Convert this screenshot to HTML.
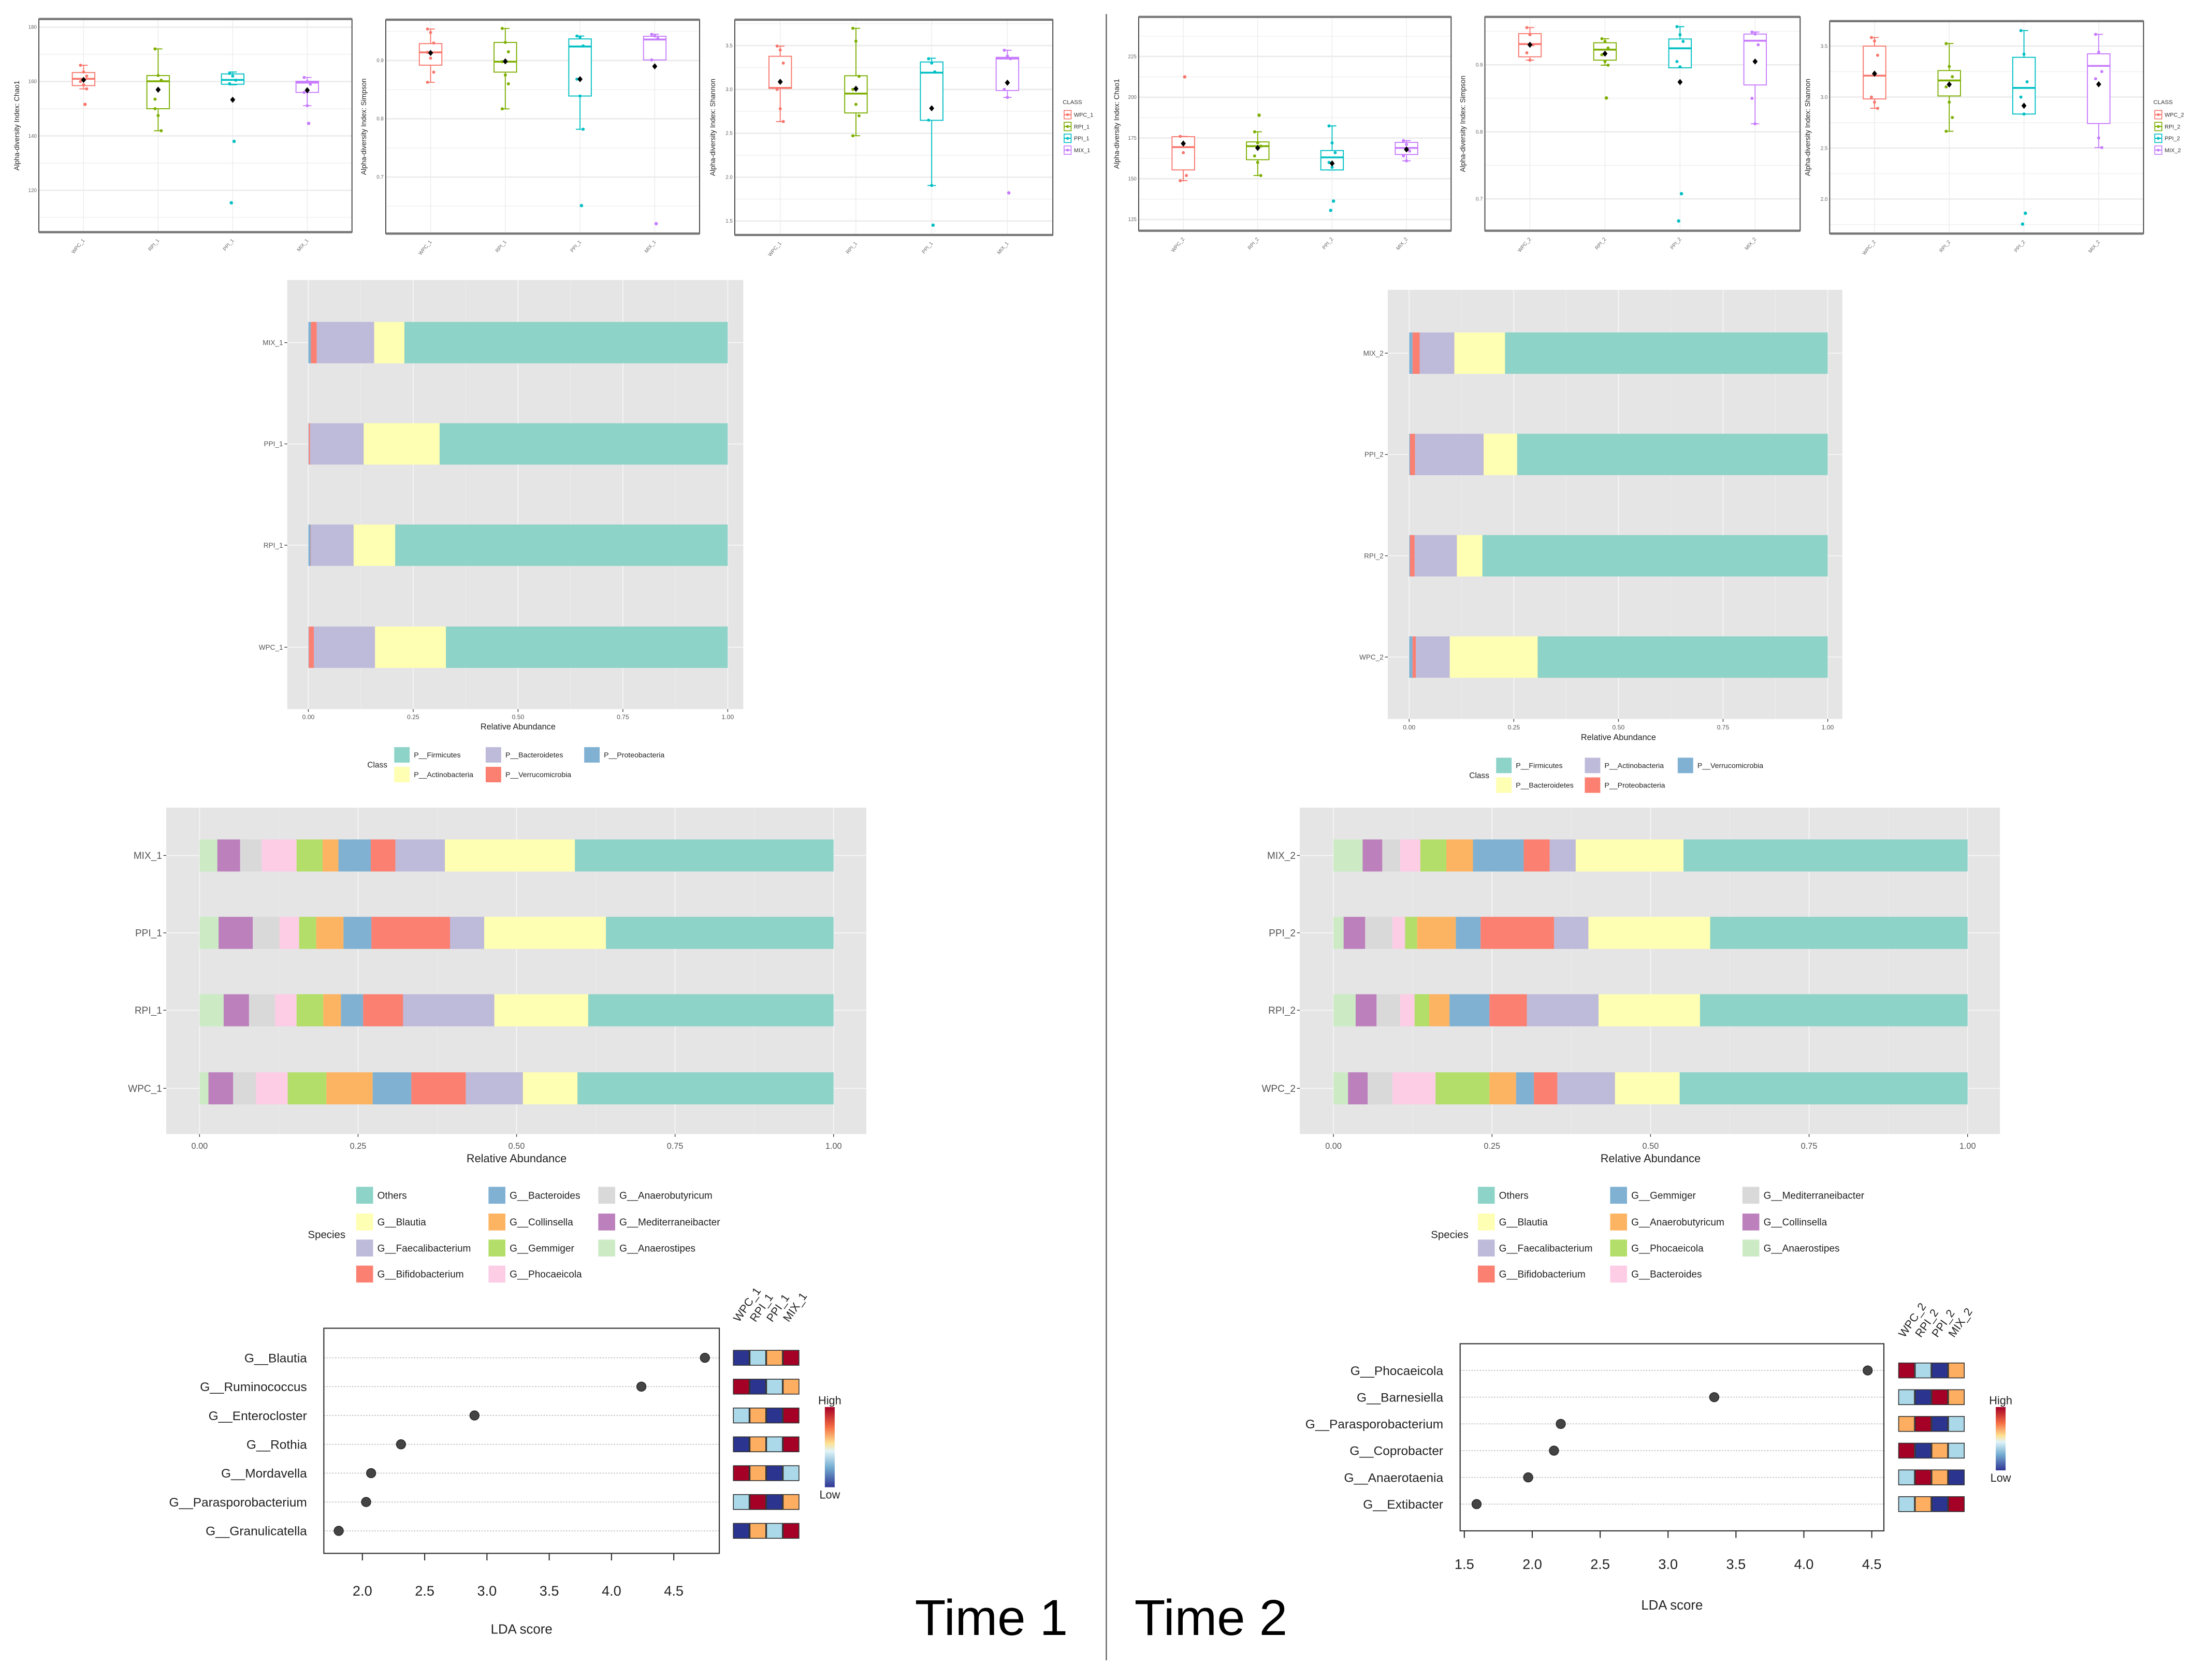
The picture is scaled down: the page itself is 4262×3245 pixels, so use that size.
<!DOCTYPE html>
<html><head><meta charset="utf-8">
<style>
html,body{margin:0;padding:0;background:#fff;}
svg{display:block;font-family:"Liberation Sans",sans-serif;}
</style></head>
<body>
<svg id="fig" width="4262" height="3245" viewBox="0 0 1568 1194" xmlns="http://www.w3.org/2000/svg">
<rect x="0" y="0" width="1568" height="1194" fill="#fff"/>
<line x1="786" y1="10" x2="786" y2="1180" stroke="#555" stroke-width="0.8"/>
<text x="650" y="1162" font-size="36" fill="#000">Time 1</text>
<text x="806" y="1162" font-size="36" fill="#000">Time 2</text>
</svg>
<script>
// ===== Boxplot data =====
const groupsT1 = ['WPC_1','RPI_1','PPI_1','MIX_1'];
const groupsT2 = ['WPC_2','RPI_2','PPI_2','MIX_2'];
const classColors = ['#F8766D','#7CAE00','#00BFC4','#C77CFF'];

const chao1T1Stats = [[157.3,158.5,161,163.3,166],[141.9,150,160.1,162.2,172],[158.8,159,160.6,162.8,163.5],[151.1,156,159.6,160.1,161.5]];
const chao1T1Means = [160.6,157,153.3,156.8];
const chao1T1Outliers = [[151.6],[],[138,115.4],[144.6]];
const chao1T1Points = [[166,163.5,162,160,158.8,157.3],[172,162.2,160.5,153.5,147.5,141.9,150],[163,162,160.5,159.2],[161.5,160,159,156,151.1]];
const chao1T1Ticks = [120,140,160,180];

const simpsonT1Stats = [[0.8626,0.892,0.914,0.929,0.954],[0.817,0.880,0.898,0.931,0.955],[0.782,0.839,0.924,0.937,0.942],[0.901,0.901,0.936,0.9416,0.945]];
const simpsonT1Means = [0.913,0.8985,0.868,0.890];
const simpsonT1Outliers = [[],[],[0.651],[0.620]];
const simpsonT1Points = [[0.954,0.948,0.93,0.914,0.904,0.88,0.8626],[0.955,0.931,0.915,0.898,0.875,0.86,0.817],[0.942,0.94,0.925,0.868,0.839,0.782],[0.945,0.942,0.938,0.901]];
const simpsonT1Ticks = [0.7,0.8,0.9];

const shannonT1Stats = [[2.634,3.012,3.018,3.378,3.494],[2.472,2.732,2.953,3.156,3.697],[1.905,2.648,3.191,3.313,3.356],[2.909,2.988,3.352,3.366,3.447]];
const shannonT1Means = [3.087,3.008,2.785,3.077];
const shannonT1Outliers = [[],[],[1.453],[1.821]];
const shannonT1Points = [[3.494,3.45,3.3,3.0,2.78,2.634],[3.697,3.55,3.15,3.0,2.83,2.7,2.472],[3.35,3.3,3.2,2.65,1.905],[3.447,3.38,3.35,3.0,2.909]];
const shannonT1Ticks = [1.5,2.0,2.5,3.0,3.5];

const chao1T2Stats = [[148.8,155.4,169.4,175.8,176],[152,161.7,170,172.6,178.8],[155.4,155.4,163.1,167.3,182.4],[161,164.9,168.9,172.3,173.4]];
const chao1T2Means = [171.6,168.9,159.4,168];
const chao1T2Outliers = [[212.5],[189],[136.3,130.6],[]];
const chao1T2Points = [[176,166,152,148.8],[178.8,172,170,164,160,152],[182.4,172,166,160,157],[173.4,171,167,164,161]];
const chao1T2Ticks = [125,150,175,200,225];

const simpsonT2Stats = [[0.907,0.912,0.931,0.9466,0.9556],[0.8995,0.907,0.9227,0.933,0.939],[0.8956,0.8956,0.9247,0.9386,0.957],[0.812,0.870,0.936,0.946,0.949]];
const simpsonT2Means = [0.930,0.9167,0.8743,0.905];
const simpsonT2Outliers = [[],[0.8506],[0.7077,0.667],[]];
const simpsonT2Points = [[0.9556,0.945,0.93,0.918,0.907],[0.939,0.935,0.925,0.915,0.905,0.8995],[0.957,0.945,0.935,0.905,0.897],[0.949,0.946,0.93,0.85,0.812]];
const simpsonT2Ticks = [0.7,0.8,0.9];

const shannonT2Stats = [[2.890,2.982,3.21,3.5,3.584],[2.665,3.011,3.163,3.26,3.525],[2.834,2.834,3.09,3.39,3.652],[2.505,2.741,3.306,3.424,3.615]];
const shannonT2Means = [3.23,3.124,2.915,3.126];
const shannonT2Outliers = [[],[],[1.861,1.755],[]];
const shannonT2Points = [[3.584,3.55,3.41,3.0,2.95,2.89],[3.525,3.3,3.2,3.1,2.95,2.8,2.665],[3.652,3.42,3.15,3.0,2.834],[3.615,3.44,3.25,3.18,2.6,2.505]];
const shannonT2Ticks = [2.0,2.5,3.0,3.5];

// ===== Phylum data (bars top->bottom: MIX, PPI, RPI, WPC), segments left->right =====
const phylumSamplesT1 = ['MIX_1','PPI_1','RPI_1','WPC_1'];
const phylumSegNamesT1 = ['P__Proteobacteria','P__Verrucomicrobia','P__Bacteroidetes','P__Actinobacteria','P__Firmicutes'];
const phylumProteoT1 = [0.006,0.001,0.005,0.001];
const phylumVerrucoT1 = [0.014,0.003,0.001,0.012];
const phylumBacteroT1 = [0.137,0.128,0.102,0.146];
const phylumActinoT1 = [0.072,0.181,0.099,0.169];
const phylumFirmiT1 = [0.771,0.687,0.793,0.672];

const phylumSamplesT2 = ['MIX_2','PPI_2','RPI_2','WPC_2'];
const phylumSegNamesT2 = ['P__Verrucomicrobia','P__Proteobacteria','P__Actinobacteria','P__Bacteroidetes','P__Firmicutes'];
const phylumVerrucoT2 = [0.008,0.002,0.002,0.008];
const phylumProteoT2 = [0.017,0.012,0.011,0.008];
const phylumActinoT2 = [0.083,0.164,0.101,0.081];
const phylumBacteroT2 = [0.121,0.080,0.061,0.210];
const phylumFirmiT2 = [0.771,0.742,0.825,0.693];
const phylumSegColors = ['#80b1d3','#fb8072','#bebada','#ffffb3','#8dd3c7'];

// ===== Genus data: widths per sample, segments left->right =====
const genusSegNamesT1 = ['G__Anaerostipes','G__Mediterraneibacter','G__Anaerobutyricum','G__Phocaeicola','G__Gemmiger','G__Collinsella','G__Bacteroides','G__Bifidobacterium','G__Faecalibacterium','G__Blautia','Others'];
const genusMIX1 = [0.028,0.036,0.034,0.055,0.041,0.025,0.051,0.039,0.078,0.205,0.408];
const genusPPI1 = [0.030,0.054,0.042,0.031,0.027,0.043,0.044,0.124,0.054,0.192,0.359];
const genusRPI1 = [0.038,0.040,0.041,0.034,0.042,0.028,0.035,0.063,0.144,0.148,0.387];
const genusWPC1 = [0.014,0.039,0.036,0.050,0.061,0.073,0.061,0.086,0.090,0.086,0.404];
const genusSegNamesT2 = ['G__Anaerostipes','G__Collinsella','G__Mediterraneibacter','G__Bacteroides','G__Phocaeicola','G__Anaerobutyricum','G__Gemmiger','G__Bifidobacterium','G__Faecalibacterium','G__Blautia','Others'];
const genusMIX2 = [0.046,0.031,0.028,0.032,0.041,0.042,0.080,0.041,0.041,0.170,0.448];
const genusPPI2 = [0.016,0.034,0.043,0.020,0.019,0.061,0.039,0.116,0.054,0.192,0.406];
const genusRPI2 = [0.035,0.033,0.037,0.023,0.023,0.032,0.063,0.059,0.113,0.160,0.422];
const genusWPC2 = [0.023,0.031,0.039,0.068,0.085,0.042,0.028,0.037,0.091,0.102,0.454];
const genusSegColors = ['#ccebc5','#bc80bd','#d9d9d9','#fccde5','#b3de69','#fdb462','#80b1d3','#fb8072','#bebada','#ffffb3','#8dd3c7'];
const genusLegendT1 = ['Others','G__Blautia','G__Faecalibacterium','G__Bifidobacterium','G__Bacteroides','G__Collinsella','G__Gemmiger','G__Phocaeicola','G__Anaerobutyricum','G__Mediterraneibacter','G__Anaerostipes'];
const genusLegendT2 = ['Others','G__Blautia','G__Faecalibacterium','G__Bifidobacterium','G__Gemmiger','G__Anaerobutyricum','G__Phocaeicola','G__Bacteroides','G__Mediterraneibacter','G__Collinsella','G__Anaerostipes'];
const genusLegendColors = ['#8dd3c7','#ffffb3','#bebada','#fb8072','#80b1d3','#fdb462','#b3de69','#fccde5','#d9d9d9','#bc80bd','#ccebc5'];
const phylumLegendT1 = ['P__Firmicutes','P__Actinobacteria','P__Bacteroidetes','P__Verrucomicrobia','P__Proteobacteria'];
const phylumLegendT2 = ['P__Firmicutes','P__Bacteroidetes','P__Actinobacteria','P__Proteobacteria','P__Verrucomicrobia'];
const phylumLegendColorsT1 = ['#8dd3c7','#ffffb3','#bebada','#fb8072','#80b1d3'];
const phylumLegendColorsT2 = ['#8dd3c7','#ffffb3','#bebada','#fb8072','#80b1d3'];

// ===== LDA data =====
const ldaTaxaT1 = ['G__Blautia','G__Ruminococcus','G__Enterocloster','G__Rothia','G__Mordavella','G__Parasporobacterium','G__Granulicatella'];
const ldaScoresT1 = [4.75,4.24,2.90,2.31,2.07,2.03,1.81];
const ldaRanksT1 = [[1,2,3,4],[4,1,2,3],[2,3,1,4],[1,3,2,4],[4,3,1,2],[2,4,1,3],[1,3,2,4]];
const ldaTicksT1 = [2.0,2.5,3.0,3.5,4.0,4.5];
const ldaTaxaT2 = ['G__Phocaeicola','G__Barnesiella','G__Parasporobacterium','G__Coprobacter','G__Anaerotaenia','G__Extibacter'];
const ldaScoresT2 = [4.47,3.34,2.21,2.16,1.97,1.59];
const ldaRanksT2 = [[4,2,1,3],[2,1,4,3],[3,4,1,2],[4,1,3,2],[2,4,3,1],[2,3,1,4]];
const ldaTicksT2 = [1.5,2.0,2.5,3.0,3.5,4.0,4.5];
const rankColors = ['#2b3590','#abd9e9','#fdae61','#a50026'];

// ===== helpers =====
const NS = 'http://www.w3.org/2000/svg';
const svg = document.getElementById('fig');
function mk(tag, attrs, parent) {
  const e = document.createElementNS(NS, tag);
  for (const k in attrs) e.setAttribute(k, attrs[k]);
  (parent || svg).appendChild(e);
  return e;
}
function txt(str, attrs, parent) {
  const e = mk('text', attrs, parent);
  e.textContent = str;
  return e;
}
function fmt(v) { return (Math.round(v * 100) / 100).toString(); }

// ===== Boxplot panel =====
function boxPanel(p, stats, means, outliers, points, ticks, groups, title, name, tickFmt) {
  const g = mk('g', {});
  
  
  const sy = v => p.y1 - (v - p.vmin) / (p.vmax - p.vmin) * (p.y1 - p.y0);
  const sx = i => p.x0 + (i + 0.6) / 4.2 * (p.x1 - p.x0);
  mk('rect', {x: p.x0, y: p.y0, width: p.x1 - p.x0, height: p.y1 - p.y0, fill: '#fff'}, g);
  // minor + major grid
  for (let i = 0; i < ticks.length; i++) {
    const step = ticks.length > 1 ? ticks[1] - ticks[0] : 1;
    [ticks[i] - step / 2, ticks[i] + step / 2].forEach(m => {
      if (m > p.vmin && m < p.vmax) mk('line', {x1: p.x0, x2: p.x1, y1: sy(m), y2: sy(m), stroke: '#f2f2f2', 'stroke-width': 0.6}, g);
    });
  }
  ticks.forEach(t => {
    const gl = mk('line', {x1: p.x0, x2: p.x1, y1: sy(t), y2: sy(t), stroke: '#ebebeb', 'stroke-width': 1}, g);
    
    
    const tl = txt(tickFmt(t), {x: p.x0 - 1.5, y: sy(t) + 1.2, 'font-size': 3.6, 'text-anchor': 'end', fill: '#666'}, g);
    
    
  });
  groups.forEach((gname, i) => {
    mk('line', {x1: sx(i), x2: sx(i), y1: p.y0, y2: p.y1, stroke: '#ebebeb', 'stroke-width': 0.5}, g);
  });
  groups.forEach((gname, i) => {
    const c = classColors[i], s = stats[i], x = sx(i), bw = 8;
    const bg = mk('g', {}, g);
    
    
    mk('line', {x1: x, x2: x, y1: sy(s[0]), y2: sy(s[1]), stroke: c, 'stroke-width': 0.7}, bg);
    mk('line', {x1: x, x2: x, y1: sy(s[3]), y2: sy(s[4]), stroke: c, 'stroke-width': 0.7}, bg);
    mk('line', {x1: x - 3, x2: x + 3, y1: sy(s[0]), y2: sy(s[0]), stroke: c, 'stroke-width': 0.7}, bg);
    mk('line', {x1: x - 3, x2: x + 3, y1: sy(s[4]), y2: sy(s[4]), stroke: c, 'stroke-width': 0.7}, bg);
    mk('rect', {x: x - bw, y: sy(s[3]), width: bw * 2, height: Math.max(0.5, sy(s[1]) - sy(s[3])), fill: '#fff', stroke: c, 'stroke-width': 0.7}, bg);
    mk('line', {x1: x - bw, x2: x + bw, y1: sy(s[2]), y2: sy(s[2]), stroke: c, 'stroke-width': 1.3}, bg);
    points[i].forEach((v, k) => {
      const dx = ((k % 3) - 1) * 2.2;
      const pt = mk('circle', {cx: x + dx, cy: sy(v), r: 1.1, fill: c}, bg);
      
      
    });
    outliers[i].forEach((v, k) => {
      const pt = mk('circle', {cx: x + (k % 2 ? -1 : 1), cy: sy(v), r: 1.2, fill: c}, bg);
      
      
    });
    const m = mk('path', {d: `M${x},${sy(means[i]) - 2.2} L${x + 1.8},${sy(means[i])} L${x},${sy(means[i]) + 2.2} L${x - 1.8},${sy(means[i])}Z`, fill: '#000'}, bg);
    
    
    const xl = txt(gname, {x: x + 1, y: p.y1 + 6, 'font-size': 3.6, 'text-anchor': 'end', fill: '#666', transform: `rotate(-50 ${x + 1} ${p.y1 + 6})`}, g);
    
    
  });
  mk('rect', {x: p.x0, y: p.y0, width: p.x1 - p.x0, height: p.y1 - p.y0, fill: 'none', stroke: '#444', 'stroke-width': 0.7}, g);
  mk('line', {x1: p.x0, x2: p.x1, y1: p.y0, y2: p.y0, stroke: '#777', 'stroke-width': 1.6}, g);
  mk('line', {x1: p.x0, x2: p.x1, y1: p.y1, y2: p.y1, stroke: '#777', 'stroke-width': 1.6}, g);
  const cy = (p.y0 + p.y1) / 2;
  const yt = txt(title, {x: p.x0 - 14, y: cy, 'font-size': 5, 'text-anchor': 'middle', fill: '#222', transform: `rotate(-90 ${p.x0 - 14} ${cy})`}, g);
  
  
}
function classLegend(x, groups) {
  const g = mk('g', {});
  
  
  txt('CLASS', {x: x, y: 74, 'font-size': 4.2, fill: '#333'}, g);
  groups.forEach((gn, i) => {
    const y = 81.5 + i * 8.4;
    const it = mk('g', {}, g);
    
    
    mk('rect', {x: x + 1, y: y - 3, width: 5, height: 6, fill: '#fff', stroke: classColors[i], 'stroke-width': 0.6}, it);
    mk('line', {x1: x + 1, x2: x + 6, y1: y, y2: y, stroke: classColors[i], 'stroke-width': 0.8}, it);
    mk('circle', {cx: x + 3.5, cy: y, r: 1, fill: classColors[i]}, it);
    txt(gn, {x: x + 8, y: y + 1.5, 'font-size': 4, fill: '#333'}, it);
  });
}
const f1 = v => v.toString();
const f2 = v => v.toFixed(1);
boxPanel({x0:27.5,x1:250,y0:13.5,y1:165,vmin:104.6,vmax:183}, chao1T1Stats, chao1T1Means, chao1T1Outliers, chao1T1Points, chao1T1Ticks, groupsT1, 'Alpha-diversity Index: Chao1', 'chao1-boxplot-time1', f1);
boxPanel({x0:274,x1:497,y0:14,y1:166,vmin:0.603,vmax:0.970}, simpsonT1Stats, simpsonT1Means, simpsonT1Outliers, simpsonT1Points, simpsonT1Ticks, groupsT1, 'Alpha-diversity Index: Simpson', 'simpson-boxplot-time1', f2);
boxPanel({x0:522,x1:748,y0:14,y1:167,vmin:1.341,vmax:3.795}, shannonT1Stats, shannonT1Means, shannonT1Outliers, shannonT1Points, shannonT1Ticks, groupsT1, 'Alpha-diversity Index: Shannon', 'shannon-boxplot-time1', f2);
classLegend(755, groupsT1);
boxPanel({x0:809,x1:1031,y0:12,y1:164,vmin:118.1,vmax:249.3}, chao1T2Stats, chao1T2Means, chao1T2Outliers, chao1T2Points, chao1T2Ticks, groupsT2, 'Alpha-diversity Index: Chao1', 'chao1-boxplot-time2', f1);
boxPanel({x0:1055,x1:1279,y0:12,y1:164,vmin:0.6524,vmax:0.9716}, simpsonT2Stats, simpsonT2Means, simpsonT2Outliers, simpsonT2Points, simpsonT2Ticks, groupsT2, 'Alpha-diversity Index: Simpson', 'simpson-boxplot-time2', f2);
boxPanel({x0:1300,x1:1523,y0:15,y1:166,vmin:1.662,vmax:3.745}, shannonT2Stats, shannonT2Means, shannonT2Outliers, shannonT2Points, shannonT2Ticks, groupsT2, 'Alpha-diversity Index: Shannon', 'shannon-boxplot-time2', f2);
classLegend(1530, groupsT2);

// ===== stacked bar panels =====
const relTicks = [0, 0.25, 0.5, 0.75, 1.0];
const relTickLabels = ['0.00','0.25','0.50','0.75','1.00'];
function stackPanel(p, samples, segs, segNames, colors, name) {
  const g = mk('g', {});
  
  
  const sx = v => p.x0 + v * (p.x1 - p.x0);
  mk('rect', {x: p.gx0, y: p.gy0, width: p.gx1 - p.gx0, height: p.gy1 - p.gy0, fill: '#e5e5e5'}, g);
  [0.125, 0.375, 0.625, 0.875].forEach(v => mk('line', {x1: sx(v), x2: sx(v), y1: p.gy0, y2: p.gy1, stroke: '#ececec', 'stroke-width': 0.4}, g));
  relTicks.forEach((v, i) => {
    mk('line', {x1: sx(v), x2: sx(v), y1: p.gy0, y2: p.gy1, stroke: '#f5f5f5', 'stroke-width': 0.7}, g);
    mk('line', {x1: sx(v), x2: sx(v), y1: p.gy1, y2: p.gy1 + 2, stroke: '#333', 'stroke-width': 0.5}, g);
    const tl = txt(relTickLabels[i], {x: sx(v), y: p.tickY, 'font-size': p.tf, 'text-anchor': 'middle', fill: '#555'}, g);
    
    
  });
  samples.forEach((s, i) => {
    const cy = p.rows[i];
    mk('line', {x1: p.gx0, x2: p.gx1, y1: cy, y2: cy, stroke: '#f5f5f5', 'stroke-width': 0.7}, g);
    mk('line', {x1: p.gx0 - 2, x2: p.gx0, y1: cy, y2: cy, stroke: '#333', 'stroke-width': 0.5}, g);
    const yl = txt(s, {x: p.gx0 - 3, y: cy + p.lf * 0.35, 'font-size': p.lf, 'text-anchor': 'end', fill: '#555'}, g);
    
    
    let acc = 0;
    segs.forEach((arr, k) => {
      const v = arr[i];
      const r = mk('rect', {x: sx(acc), y: cy - p.bh / 2, width: Math.max(0, sx(acc + v) - sx(acc)), height: p.bh, fill: colors[k]}, g);
      
      
      acc += v;
    });
  });
  const at = txt('Relative Abundance', {x: sx(0.5), y: p.titleY, 'font-size': p.af, 'text-anchor': 'middle', fill: '#222'}, g);
  
  
}
function legendBlock(p, labels, colors, title, name) {
  const g = mk('g', {});
  
  
  const tt = txt(title, {x: p.tx, y: p.ty, 'font-size': p.f + 0.5, 'text-anchor': 'middle', fill: '#222'}, g);
  
  
  labels.forEach((lab, i) => {
    const col = Math.floor(i / p.nrow), row = i % p.nrow;
    const x = p.cols[col], y = p.rows[row];
    const it = mk('g', {}, g);
    
    
    mk('rect', {x: x, y: y - p.s / 2, width: p.s, height: p.s, fill: colors[i]}, it);
    txt(lab, {x: x + p.s + 3, y: y + p.f * 0.35, 'font-size': p.f, fill: '#222'}, it);
  });
}
stackPanel({x0:219,x1:517,gx0:204,gx1:528,gy0:199,gy1:504,rows:[243.5,315.5,387.5,460],bh:29.4,tickY:511,titleY:518.5,tf:4.5,lf:5,af:6},
  phylumSamplesT1, [phylumProteoT1,phylumVerrucoT1,phylumBacteroT1,phylumActinoT1,phylumFirmiT1], phylumSegNamesT1, phylumSegColors, 'phylum-bars-time1');
legendBlock({tx:268,ty:545.5,f:5.2,s:11,nrow:2,cols:[280,345,415],rows:[536.5,550.5]}, phylumLegendT1, phylumLegendColorsT1, 'Class', 'phylum-legend-time1');
stackPanel({x0:1001.2,x1:1298.6,gx0:986,gx1:1309,gy0:206,gy1:511,rows:[251,323,395,467],bh:29.4,tickY:518.5,titleY:526,tf:4.5,lf:5,af:6},
  phylumSamplesT2, [phylumVerrucoT2,phylumProteoT2,phylumActinoT2,phylumBacteroT2,phylumFirmiT2], phylumSegNamesT2, phylumSegColors, 'phylum-bars-time2');
legendBlock({tx:1051,ty:553,f:5.2,s:11,nrow:2,cols:[1063,1126,1192],rows:[544,558]}, phylumLegendT2, phylumLegendColorsT2, 'Class', 'phylum-legend-time2');

stackPanel({x0:141.7,x1:592.2,gx0:118,gx1:615.5,gy0:574,gy1:806,rows:[608,663,718,773.5],bh:22.8,tickY:816.5,titleY:826,tf:6,lf:7,af:8},
  phylumSamplesT1, [0,1,2,3,4,5,6,7,8,9,10].map(k => [genusMIX1[k],genusPPI1[k],genusRPI1[k],genusWPC1[k]]), genusSegNamesT1, genusSegColors, 'genus-bars-time1');
legendBlock({tx:232,ty:880,f:7,s:12,nrow:4,cols:[253,347,425],rows:[849.5,868.5,887,905.5]}, genusLegendT1, genusLegendColors, 'Species', 'genus-legend-time1');
stackPanel({x0:947.4,x1:1398,gx0:923.5,gx1:1421,gy0:574,gy1:806,rows:[608,663,718,773.5],bh:22.8,tickY:816.5,titleY:826,tf:6,lf:7,af:8},
  phylumSamplesT2, [0,1,2,3,4,5,6,7,8,9,10].map(k => [genusMIX2[k],genusPPI2[k],genusRPI2[k],genusWPC2[k]]), genusSegNamesT2, genusSegColors, 'genus-bars-time2');
legendBlock({tx:1030,ty:880,f:7,s:12,nrow:4,cols:[1050,1144,1238],rows:[849.5,868.5,887,905.5]}, genusLegendT2, genusLegendColors, 'Species', 'genus-legend-time2');

// ===== LDA =====
function ldaPanel(p, taxa, scores, ranks, ticks, groups, name) {
  const g = mk('g', {});
  
  
  const sx = v => p.ax + (v - p.av) * p.k;
  const n = taxa.length;
  const sy = i => p.r0 + i * (p.r1 - p.r0) / (n - 1);
  taxa.forEach((t, i) => {
    mk('line', {x1: p.x0, x2: p.x1, y1: sy(i), y2: sy(i), stroke: '#bbb', 'stroke-width': 0.6, 'stroke-dasharray': '1 1'}, g);
    const lb = txt(t, {x: p.x0 - 12, y: sy(i) + 3.2, 'font-size': 9, 'text-anchor': 'end', fill: '#222'}, g);
    
    
    const pt = mk('circle', {cx: sx(scores[i]), cy: sy(i), r: 3.3, fill: '#444', stroke: '#222', 'stroke-width': 0.5}, g);
    
    
    ranks[i].forEach((rk, j) => {
      const c = mk('rect', {x: p.hx + j * 11.8, y: sy(i) - 5.3, width: 11.2, height: 10.6, fill: rankColors[rk - 1], stroke: '#333', 'stroke-width': 0.6}, g);
      
      
    });
  });
  groups.forEach((gn, j) => {
    const x = p.hx + j * 11.8 + 4, y = p.y0 - 4;
    const cl = txt(gn, {x: x, y: y, 'font-size': 8, fill: '#222', transform: `rotate(-55 ${x} ${y})`}, g);
    
    
  });
  mk('rect', {x: p.x0, y: p.y0, width: p.x1 - p.x0, height: p.y1 - p.y0, fill: 'none', stroke: '#333', 'stroke-width': 0.8}, g);
  ticks.forEach(t => {
    mk('line', {x1: sx(t), x2: sx(t), y1: p.y1, y2: p.y1 + 5, stroke: '#333', 'stroke-width': 0.8}, g);
    const tl = txt(t.toFixed(1), {x: sx(t), y: p.tickY, 'font-size': 10, 'text-anchor': 'middle', fill: '#222'}, g);
    
    
  });
  const at = txt('LDA score', {x: (p.x0 + p.x1) / 2, y: p.titleY, 'font-size': 9.5, 'text-anchor': 'middle', fill: '#222'}, g);
  
  
  // color key
  const gid = 'grad-' + name;
  const defs = mk('defs', {}, g);
  const lg = mk('linearGradient', {id: gid, x1: 0, y1: 0, x2: 0, y2: 1}, defs);
  [['0','#a50026'],['0.25','#f46d43'],['0.45','#fee090'],['0.55','#e0f3f8'],['0.75','#74add1'],['1','#313695']].forEach(s => mk('stop', {offset: s[0], 'stop-color': s[1]}, lg));
  const ck = mk('rect', {x: p.kx, y: p.ky0, width: 7, height: p.ky1 - p.ky0, fill: `url(#${gid})`}, g);
  
  
  txt('High', {x: p.kx + 3.5, y: p.ky0 - 2, 'font-size': 8, 'text-anchor': 'middle', fill: '#222'}, g);
  txt('Low', {x: p.kx + 3.5, y: p.ky1 + 8, 'font-size': 8, 'text-anchor': 'middle', fill: '#222'}, g);
}
ldaPanel({x0:230,x1:511,y0:944,y1:1104,ax:257.4,av:2.0,k:88.5,r0:965,r1:1088,hx:521,tickY:1134,titleY:1161,kx:586,ky0:1000,ky1:1057},
  ldaTaxaT1, ldaScoresT1, ldaRanksT1, ldaTicksT1, groupsT1, 'lda-chart-time1');
ldaPanel({x0:1037.4,x1:1338.5,y0:955,y1:1088,ax:1040.4,av:1.5,k:96.5,r0:974,r1:1069,hx:1349,tickY:1115,titleY:1144,kx:1418,ky0:1000,ky1:1045},
  ldaTaxaT2, ldaScoresT2, ldaRanksT2, ldaTicksT2, groupsT2, 'lda-chart-time2');
</script>
</body></html>
